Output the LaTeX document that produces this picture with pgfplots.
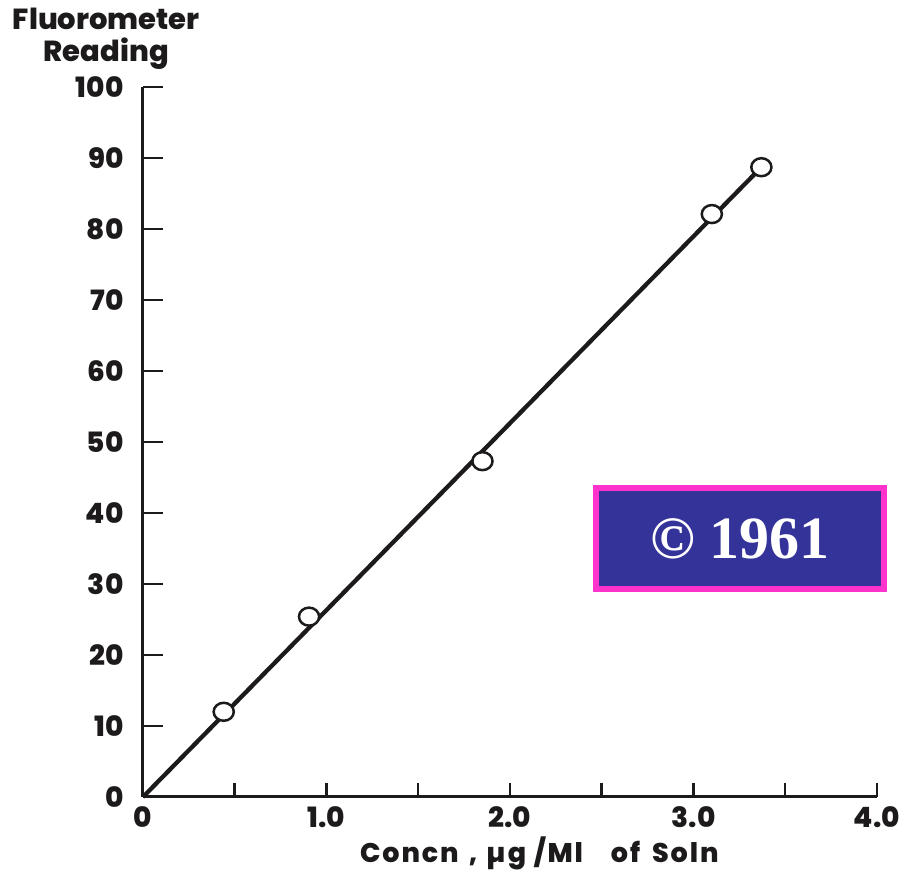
\documentclass[border=0pt]{standalone}
\usepackage{pgfplots}
\pgfplotsset{compat=1.18}
\usepackage{fontspec}
\setmainfont{Poppins}[BoldFont={Poppins ExtraBold}]
\newfontfamily\widefont{Poppins}[BoldFont={Poppins ExtraBold}, LetterSpace=7]
\newfontfamily\boxfont{Liberation Serif}
\definecolor{ink}{HTML}{1C1A1A}
\definecolor{boxblue}{HTML}{333399}
\definecolor{boxpink}{HTML}{FF33CC}

\begin{document}
\begin{tikzpicture}
\begin{axis}[
  scale only axis,
  width=734pt, height=710pt,
  xmin=0, xmax=4, ymin=0, ymax=100,
  axis lines=left,
  axis line style={ink, line width=3pt, -},
  clip=false,
  xtick={0,0.5,...,4},
  xticklabels={0,,1.0,,2.0,,3.0,,4.0},
  ytick={0,10,...,100},
  tick align=inside,
  major tick length=20pt,
  xtick style={ink, line width=2.5pt, /pgfplots/major tick length=14pt},
  ytick style={ink, line width=2.5pt},
  /pgf/number format/assume math mode=true,
  tick label style={font=\fontsize{28}{32}\selectfont\bfseries, text=ink},
  yticklabel style={xshift=-16pt},
  xticklabel style={yshift=-6pt},
  xlabel={Concn\hspace{10pt},\hspace{9pt}µg\hspace{8pt}/Ml\hspace{28pt}of\hspace{12pt}Soln},
  xlabel style={font=\widefont\fontsize{27}{30}\selectfont\bfseries, text=ink, at={(rel axis cs:0.54,0)}, anchor=north, yshift=-39pt, inner sep=1pt},
  ylabel={Fluorometer\\Reading},
  ylabel style={font=\fontsize{29}{32}\selectfont\bfseries, text=ink, align=center, rotate=-90, anchor=south, at={(rel axis cs:-0.05,1.02)}},
]
% fitted line
\addplot[ink, line width=4.3pt] coordinates {(0,0) (3.37,88.7)};
% measured points
\addplot[only marks, mark=*, mark size=9pt,
  mark options={fill=white, draw=ink, line width=2.5pt, xscale=1.12}]
  coordinates {(0.44,12.0) (0.905,25.4) (1.85,47.3) (3.10,82.1) (3.37,88.7)};

\node[draw=boxpink, fill=boxblue, line width=6pt, minimum width=288pt, minimum height=101pt, inner sep=0pt,
  text=white, font=\boxfont\fontsize{60}{60}\selectfont\bfseries]
  at (axis cs:3.253,36.4) {© 1961};

\coordinate (bbsw) at (rel axis cs:-0.1948,-0.1085);
\coordinate (bbne) at (rel axis cs:1.0409,1.1225);
\end{axis}
\pgfresetboundingbox
\path[use as bounding box] (bbsw) rectangle (bbne);
\end{tikzpicture}
\end{document}
